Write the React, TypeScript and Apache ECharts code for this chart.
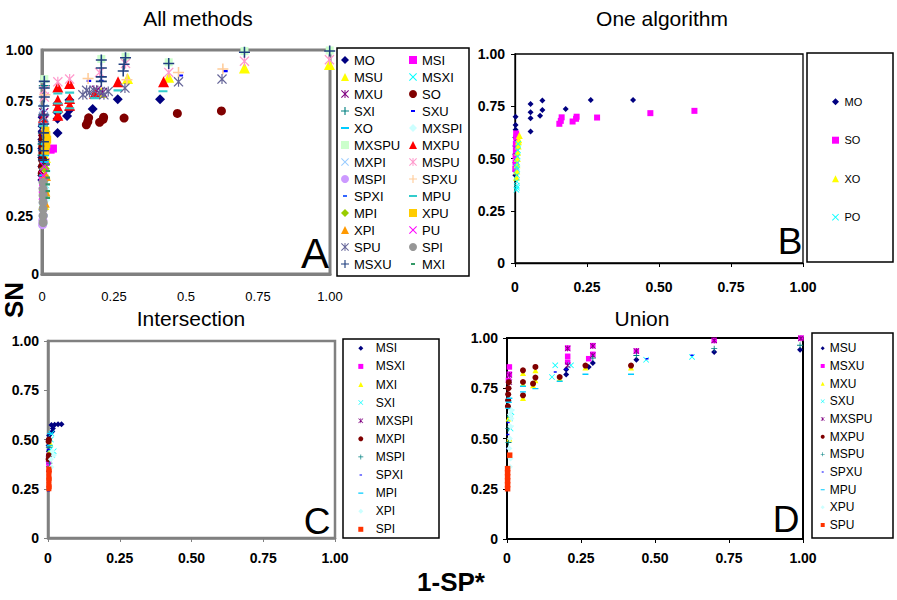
import React, { useEffect, useRef } from 'react';
import * as echarts from 'echarts';

type Pt = [number, number];

// ---------- tick labels ----------
const A_X_TICKS = ['0', '0.25', '0.5', '0.75', '1.00'];
const A_Y_TICKS = ['0', '0.25', '0.50', '0.75', '1.00'];
const STD_TICKS = ['0', '0.25', '0.50', '0.75', '1.00'];

// ---------- Panel B (and shared with A) ----------
const MO: Pt[] = [[0.002, 0.70], [0.002, 0.66], [0.002, 0.637], [0.001, 0.60], [0.001, 0.56], [0.001, 0.52], [0.001, 0.48], [0.001, 0.44], [0.001, 0.42], [0.054, 0.761], [0.054, 0.721], [0.054, 0.693], [0.054, 0.629], [0.087, 0.705], [0.095, 0.777], [0.095, 0.732], [0.176, 0.737], [0.263, 0.78], [0.41, 0.78]];
const SO: Pt[] = [[0.001, 0.45], [0.002, 0.48], [0.002, 0.51], [0.003, 0.54], [0.003, 0.57], [0.004, 0.60], [0.004, 0.62], [0.154, 0.666], [0.159, 0.68], [0.162, 0.697], [0.20, 0.677], [0.212, 0.69], [0.214, 0.70], [0.285, 0.696], [0.47, 0.717], [0.623, 0.728]];
const XO: Pt[] = [[0.005, 0.41], [0.006, 0.44], [0.007, 0.47], [0.008, 0.50], [0.009, 0.53], [0.011, 0.56], [0.013, 0.59], [0.015, 0.61], [0.012, 0.58]];
const PO: Pt[] = [[0.005, 0.35], [0.006, 0.37], [0.006, 0.39], [0.007, 0.42], [0.008, 0.45], [0.008, 0.48], [0.009, 0.51], [0.010, 0.54], [0.011, 0.57], [0.006, 0.46], [0.007, 0.36]];

// ---------- Panel A ----------
const A_MSI: Pt[] = [[0.038, 0.56], [0.03, 0.555], [0.012, 0.50], [0.006, 0.47], [0.003, 0.44], [0.004, 0.41]];
const A_MSU: Pt[] = [[0.998, 0.935], [0.703, 0.92], [0.44, 0.878], [0.297, 0.873], [0.206, 0.81], [0.012, 0.52], [0.01, 0.45], [0.008, 0.38], [0.006, 0.31]];
const A_MSXI: Pt[] = [[0.004, 0.24], [0.005, 0.28], [0.006, 0.32], [0.008, 0.36], [0.01, 0.40], [0.01, 0.44]];
const A_MXU: Pt[] = [[0.003, 0.60], [0.005, 0.65], [0.006, 0.72], [0.19, 0.82], [0.21, 0.81]];
const A_SXI: Pt[] = [[0.008, 0.84], [0.004, 0.58], [0.004, 0.53]];
const A_SXU: Pt[] = [[0.482, 0.886], [0.637, 0.906], [0.163, 0.862], [0.206, 0.862], [0.005, 0.62]];
const A_MXSPI: Pt[] = [[0.01, 0.38], [0.012, 0.42], [0.015, 0.46], [0.012, 0.33]];
const A_MXSPU: Pt[] = [[0.008, 0.87], [0.206, 0.96], [0.29, 0.97], [0.44, 0.945], [0.703, 0.995], [0.999, 0.998]];
const A_MXPU: Pt[] = [[0.055, 0.835], [0.055, 0.776], [0.055, 0.746], [0.055, 0.709], [0.096, 0.851], [0.096, 0.783], [0.096, 0.753], [0.183, 0.806], [0.264, 0.858], [0.422, 0.858], [0.005, 0.70]];
const A_MXPI: Pt[] = [[0.005, 0.74], [0.008, 0.70], [0.01, 0.66], [0.003, 0.30]];
const A_MSPU: Pt[] = [[0.055, 0.858], [0.096, 0.87], [0.2, 0.9], [0.29, 0.94], [0.44, 0.90], [0.703, 0.95], [0.998, 0.957], [0.008, 0.82], [0.008, 0.79]];
const A_MSPI: Pt[] = [[0.002, 0.22], [0.003, 0.24], [0.004, 0.26]];
const A_SPXU: Pt[] = [[0.16, 0.873], [0.295, 0.867], [0.474, 0.90], [0.628, 0.915], [0.01, 0.80]];
const A_SPXI: Pt[] = [[0.005, 0.30], [0.008, 0.35]];
const A_MPU: Pt[] = [[0.055, 0.806], [0.055, 0.761], [0.055, 0.723], [0.096, 0.81], [0.096, 0.77], [0.096, 0.74], [0.183, 0.785], [0.264, 0.82], [0.42, 0.816], [0.005, 0.66]];
const A_MPI: Pt[] = [[0.008, 0.42], [0.01, 0.47]];
const A_XPU: Pt[] = [[0.012, 0.64], [0.015, 0.62], [0.018, 0.60], [0.015, 0.58], [0.012, 0.55]];
const A_XPI: Pt[] = [[0.008, 0.32], [0.01, 0.37], [0.012, 0.44]];
const A_PU: Pt[] = [[0.003, 0.40], [0.005, 0.44], [0.008, 0.48], [0.003, 0.35]];
const A_SPU: Pt[] = [[0.142, 0.80], [0.155, 0.82], [0.165, 0.81], [0.18, 0.82], [0.2, 0.81], [0.215, 0.80], [0.23, 0.815], [0.288, 0.83], [0.474, 0.858], [0.625, 0.87], [0.005, 0.70]];
const A_SPI: Pt[] = [[0.004, 0.23], [0.004, 0.26], [0.004, 0.29], [0.004, 0.32], [0.004, 0.35], [0.004, 0.38], [0.004, 0.41]];
const A_MSXU: Pt[] = [[0.008, 0.86], [0.008, 0.83], [0.008, 0.79], [0.006, 0.75], [0.006, 0.71], [0.006, 0.67], [0.005, 0.63], [0.005, 0.59], [0.005, 0.55], [0.005, 0.51], [0.206, 0.955], [0.206, 0.92], [0.206, 0.88], [0.206, 0.86], [0.29, 0.965], [0.285, 0.936], [0.282, 0.906], [0.44, 0.94], [0.703, 0.99], [0.999, 0.996]];
const A_MXI: Pt[] = [[0.02, 0.49], [0.02, 0.46], [0.02, 0.43], [0.02, 0.40], [0.02, 0.37], [0.02, 0.34]];

// ---------- Panel C (Intersection) ----------
const C_MSI: Pt[] = [[0.002, 0.50], [0.004, 0.52], [0.012, 0.573], [0.017, 0.556], [0.023, 0.575], [0.035, 0.577], [0.047, 0.577], [0.015, 0.54], [0.002, 0.47], [0.003, 0.44]];
const C_MSXI: Pt[] = [[0.002, 0.38], [0.003, 0.42]];
const C_MXI: Pt[] = [[0.005, 0.44], [0.008, 0.48]];
const C_SXI: Pt[] = [[0.008, 0.45], [0.01, 0.50], [0.012, 0.53], [0.015, 0.42], [0.02, 0.44]];
const C_MXSPI: Pt[] = [[0.002, 0.40], [0.003, 0.35]];
const C_MXPI: Pt[] = [[0.002, 0.49], [0.003, 0.50], [0.003, 0.42], [0.002, 0.40]];
const C_MSPI: Pt[] = [[0.003, 0.46], [0.005, 0.38]];
const C_SPXI: Pt[] = [[0.001, 0.34], [0.002, 0.24], [0.001, 0.45]];
const C_MPI: Pt[] = [[0.006, 0.47], [0.008, 0.53]];
const C_XPI: Pt[] = [[0.01, 0.40], [0.015, 0.44], [0.02, 0.42], [0.012, 0.36]];
const C_SPI: Pt[] = [[0.003, 0.25], [0.003, 0.27], [0.003, 0.29], [0.003, 0.31], [0.003, 0.33], [0.003, 0.35], [0.004, 0.26], [0.004, 0.30], [0.004, 0.34]];

// ---------- Panel D (Union) ----------
const D_MSU: Pt[] = [[0.003, 0.66], [0.003, 0.69], [0.004, 0.72], [0.005, 0.75], [0.006, 0.78], [0.2, 0.818], [0.2, 0.843], [0.276, 0.856], [0.29, 0.876], [0.437, 0.892], [0.70, 0.93], [0.99, 0.942]];
const D_MSXU: Pt[] = [[0.008, 0.856], [0.008, 0.82], [0.005, 0.79], [0.205, 0.95], [0.205, 0.909], [0.205, 0.88], [0.276, 0.897], [0.29, 0.919], [0.29, 0.962], [0.437, 0.935], [0.70, 0.988], [0.993, 1.0]];
const D_MXU: Pt[] = [[0.054, 0.826], [0.054, 0.773], [0.054, 0.702], [0.088, 0.765], [0.096, 0.79], [0.096, 0.839], [0.178, 0.798], [0.265, 0.853], [0.419, 0.853], [0.005, 0.60], [0.008, 0.50]];
const D_SXU: Pt[] = [[0.152, 0.806], [0.163, 0.864], [0.216, 0.864], [0.47, 0.892], [0.625, 0.906], [0.01, 0.60], [0.015, 0.63], [0.012, 0.55]];
const D_MXSPU: Pt[] = [[0.008, 0.816], [0.008, 0.78], [0.205, 0.864], [0.205, 0.948], [0.29, 0.914], [0.29, 0.96], [0.437, 0.935], [0.70, 0.988], [0.993, 0.998]];
const D_MXPU: Pt[] = [[0.003, 0.66], [0.004, 0.69], [0.004, 0.72], [0.005, 0.75], [0.006, 0.78], [0.054, 0.839], [0.054, 0.781], [0.054, 0.715], [0.088, 0.773], [0.096, 0.803], [0.096, 0.856], [0.178, 0.806], [0.265, 0.863], [0.419, 0.863]];
const D_MSPU: Pt[] = [[0.437, 0.913], [0.70, 0.947], [0.99, 0.964], [0.29, 0.90], [0.005, 0.48], [0.004, 0.55]];
const D_SPXU: Pt[] = [[0.163, 0.831], [0.2, 0.845], [0.473, 0.897], [0.625, 0.914], [0.003, 0.45], [0.003, 0.52], [0.004, 0.58]];
const D_MPU: Pt[] = [[0.054, 0.732], [0.054, 0.76], [0.096, 0.748], [0.178, 0.785], [0.265, 0.82], [0.419, 0.82], [0.005, 0.65], [0.008, 0.70], [0.006, 0.68]];
const D_XPU: Pt[] = [[0.01, 0.62], [0.015, 0.60], [0.012, 0.56], [0.01, 0.50], [0.008, 0.45], [0.012, 0.40], [0.01, 0.36], [0.015, 0.64]];
const D_SPU: Pt[] = [[0.002, 0.25], [0.002, 0.27], [0.002, 0.29], [0.002, 0.31], [0.002, 0.33], [0.002, 0.35], [0.009, 0.417]];

// ---------- styling ----------
const FONT = '"Liberation Sans", Arial, Helvetica, sans-serif';
const SYM: Record<string, string> = {
  diamond: 'path://M5,0L10,5L5,10L0,5Z',
  square: 'path://M0,0H10V10H0Z',
  triangle: 'path://M5,0L10,10H0Z',
  circle: 'circle',
  x: 'path://M0.9,0L5,4.1L9.1,0L10,0.9L5.9,5L10,9.1L9.1,10L5,5.9L0.9,10L0,9.1L4.1,5L0,0.9Z',
  star: 'path://M0.9,0L5,4.1L9.1,0L10,0.9L5.9,5L10,9.1L9.1,10L5,5.9L0.9,10L0,9.1L4.1,5L0,0.9Z M4.4,0H5.6V10H4.4Z',
  plus: 'path://M4.3,0H5.7V4.3H10V5.7H5.7V10H4.3V5.7H0V4.3H4.3Z',
  dash: 'path://M0,0H0.01V0.01H0Z M2.5,3.8H7.5V6.2H2.5Z M10,10H9.99V9.99H10Z',
  longDash: 'path://M0,0H0.01V0.01H0Z M0,3.8H10V6.2H0Z M10,10H9.99V9.99H10Z',
};

type SDef = { label: string; data: Pt[]; sym: string; color: string };

const A_SERIES: SDef[] = [
  { label: 'MO', data: MO, sym: 'diamond', color: '#000080' },
  { label: 'MSI', data: A_MSI, sym: 'square', color: '#FF00FF' },
  { label: 'MSU', data: A_MSU, sym: 'triangle', color: '#FFFF00' },
  { label: 'MSXI', data: A_MSXI, sym: 'x', color: '#00FFFF' },
  { label: 'MXU', data: A_MXU, sym: 'star', color: '#800080' },
  { label: 'SO', data: SO, sym: 'circle', color: '#800000' },
  { label: 'SXI', data: A_SXI, sym: 'plus', color: '#008080' },
  { label: 'SXU', data: A_SXU, sym: 'dash', color: '#0000FF' },
  { label: 'XO', data: XO, sym: 'longDash', color: '#00CCFF' },
  { label: 'MXSPI', data: A_MXSPI, sym: 'diamond', color: '#CCFFFF' },
  { label: 'MXSPU', data: A_MXSPU, sym: 'square', color: '#CCFFCC' },
  { label: 'MXPU', data: A_MXPU, sym: 'triangle', color: '#FF0000' },
  { label: 'MXPI', data: A_MXPI, sym: 'x', color: '#99CCFF' },
  { label: 'MSPU', data: A_MSPU, sym: 'star', color: '#FF99CC' },
  { label: 'MSPI', data: A_MSPI, sym: 'circle', color: '#CC99FF' },
  { label: 'SPXU', data: A_SPXU, sym: 'plus', color: '#FFCC99' },
  { label: 'SPXI', data: A_SPXI, sym: 'dash', color: '#3366FF' },
  { label: 'MPU', data: A_MPU, sym: 'longDash', color: '#33CCCC' },
  { label: 'MPI', data: A_MPI, sym: 'diamond', color: '#99CC00' },
  { label: 'XPU', data: A_XPU, sym: 'square', color: '#FFCC00' },
  { label: 'XPI', data: A_XPI, sym: 'triangle', color: '#FF9900' },
  { label: 'PU', data: A_PU, sym: 'x', color: '#FF00FF' },
  { label: 'SPU', data: A_SPU, sym: 'star', color: '#666699' },
  { label: 'SPI', data: A_SPI, sym: 'circle', color: '#969696' },
  { label: 'MSXU', data: A_MSXU, sym: 'plus', color: '#1F3F7F' },
  { label: 'MXI', data: A_MXI, sym: 'dash', color: '#339966' },
];

const B_SERIES: SDef[] = [
  { label: 'MO', data: MO, sym: 'diamond', color: '#000080' },
  { label: 'SO', data: SO, sym: 'square', color: '#FF00FF' },
  { label: 'XO', data: XO, sym: 'triangle', color: '#FFFF00' },
  { label: 'PO', data: PO, sym: 'x', color: '#00FFFF' },
];

const C_SERIES: SDef[] = [
  { label: 'MSI', data: C_MSI, sym: 'diamond', color: '#000080' },
  { label: 'MSXI', data: C_MSXI, sym: 'square', color: '#FF00FF' },
  { label: 'MXI', data: C_MXI, sym: 'triangle', color: '#FFFF00' },
  { label: 'SXI', data: C_SXI, sym: 'x', color: '#00FFFF' },
  { label: 'MXSPI', data: C_MXSPI, sym: 'star', color: '#800080' },
  { label: 'MXPI', data: C_MXPI, sym: 'circle', color: '#800000' },
  { label: 'MSPI', data: C_MSPI, sym: 'plus', color: '#008080' },
  { label: 'SPXI', data: C_SPXI, sym: 'dash', color: '#0000FF' },
  { label: 'MPI', data: C_MPI, sym: 'longDash', color: '#00CCFF' },
  { label: 'XPI', data: C_XPI, sym: 'diamond', color: '#CCFFFF' },
  { label: 'SPI', data: C_SPI, sym: 'square', color: '#FF3300' },
];

const D_SERIES: SDef[] = [
  { label: 'MSU', data: D_MSU, sym: 'diamond', color: '#000080' },
  { label: 'MSXU', data: D_MSXU, sym: 'square', color: '#FF00FF' },
  { label: 'MXU', data: D_MXU, sym: 'triangle', color: '#FFFF00' },
  { label: 'SXU', data: D_SXU, sym: 'x', color: '#00FFFF' },
  { label: 'MXSPU', data: D_MXSPU, sym: 'star', color: '#800080' },
  { label: 'MXPU', data: D_MXPU, sym: 'circle', color: '#800000' },
  { label: 'MSPU', data: D_MSPU, sym: 'plus', color: '#008080' },
  { label: 'SPXU', data: D_SPXU, sym: 'dash', color: '#0000FF' },
  { label: 'MPU', data: D_MPU, sym: 'longDash', color: '#00CCFF' },
  { label: 'XPU', data: D_XPU, sym: 'diamond', color: '#CCFFFF' },
  { label: 'SPU', data: D_SPU, sym: 'square', color: '#FF3300' },
];

const A_SIZE: Record<string, number> = { diamond: 10, square: 8, triangle: 11, circle: 9, x: 9, star: 10, plus: 11, dash: 9, longDash: 9 };

type PanelCfg = {
  id: string; series: SDef[]; grid: any; frame: string; frameW: number;
  ticks: boolean; xTicks: string[]; labelWeight: string; xMargin: number; yMargin: number; showY: boolean;
  size: (s: string) => number;
};

const PANELS: PanelCfg[] = [
  { id: 'A', series: A_SERIES, grid: { left: 42, top: 50, width: 288, height: 224 }, frame: '#808080', frameW: 3, ticks: false, xTicks: A_X_TICKS, labelWeight: 'normal', xMargin: 16, yMargin: 9, showY: false, size: (s) => A_SIZE[s] },
  { id: 'B', series: B_SERIES, grid: { left: 515, top: 54, width: 288, height: 209 }, frame: '#000000', frameW: 1.3, ticks: true, xTicks: STD_TICKS, labelWeight: 'bold', xMargin: 17, yMargin: 10, showY: true, size: (s) => (s === 'triangle' ? 7 : 6) },
  { id: 'C', series: C_SERIES, grid: { left: 48, top: 341, width: 287, height: 197 }, frame: '#808080', frameW: 2.5, ticks: true, xTicks: STD_TICKS, labelWeight: 'bold', xMargin: 13, yMargin: 9, showY: true, size: (s) => (s === 'square' ? 5 : 6) },
  { id: 'D', series: D_SERIES, grid: { left: 507, top: 338, width: 296, height: 201 }, frame: '#000000', frameW: 2, ticks: true, xTicks: STD_TICKS, labelWeight: 'bold', xMargin: 12, yMargin: 9, showY: true, size: (s) => (s === 'square' ? 5.5 : 6) },
];

function buildOption() {
  const grid: any[] = [];
  const xAxis: any[] = [];
  const yAxis: any[] = [];
  const series: any[] = [];
  PANELS.forEach((p, i) => {
    grid.push({ ...p.grid, show: true, borderColor: p.frame, borderWidth: p.frameW, backgroundColor: 'transparent' });
    const axisLine = { show: true, lineStyle: { color: p.frame, width: p.frameW } };
    const axisTick = { show: p.ticks, length: 4, lineStyle: { color: p.frame, width: 1 } };
    xAxis.push({
      type: 'value', gridIndex: i, min: 0, max: 1, interval: 0.25, axisLine, axisTick, splitLine: { show: false },
      axisLabel: { margin: p.xMargin, color: '#000', fontFamily: FONT, fontSize: p.id === 'A' ? 13 : 14, fontWeight: p.labelWeight, formatter: (v: number) => p.xTicks[Math.round(v / 0.25)] },
    });
    yAxis.push({
      type: 'value', gridIndex: i, min: 0, max: 1, interval: 0.25, axisLine, axisTick, splitLine: { show: false },
      axisLabel: { show: p.showY, margin: p.yMargin, color: '#000', fontFamily: FONT, fontSize: 14, fontWeight: 'bold', formatter: (v: number) => STD_TICKS[Math.round(v / 0.25)] },
    });
    p.series.forEach((s) => {
      series.push({
        type: 'scatter', name: `${p.id}|${s.label}`, xAxisIndex: i, yAxisIndex: i, data: s.data,
        symbol: SYM[s.sym], symbolSize: p.size(s.sym), itemStyle: { color: s.color, opacity: 1 },
        emphasis: { disabled: true }, silent: true,
      });
    });
  });

  const fmt = (n: string) => n.split('|')[1];
  const legItems = (p: string, arr: SDef[]) => arr.map((s) => ({ name: `${p}|${s.label}`, icon: SYM[s.sym] }));
  const baseLegend = { orient: 'vertical', padding: 0, selectedMode: false, formatter: fmt, symbolKeepAspect: true };
  const legend: any[] = [
    { ...baseLegend, left: 341, top: 53, itemWidth: 8, itemHeight: 8, itemGap: 3, data: legItems('A', A_SERIES.filter((_, k) => k % 2 === 0)), textStyle: { fontFamily: FONT, fontSize: 13, lineHeight: 14, color: '#000' } },
    { ...baseLegend, left: 409, top: 53, itemWidth: 8, itemHeight: 8, itemGap: 3, data: legItems('A', A_SERIES.filter((_, k) => k % 2 === 1)), textStyle: { fontFamily: FONT, fontSize: 13, lineHeight: 14, color: '#000' } },
    { ...baseLegend, left: 832, top: 95.7, itemWidth: 8, itemHeight: 7, itemGap: 26.5, data: legItems('B', B_SERIES), textStyle: { fontFamily: FONT, fontSize: 11, lineHeight: 12, color: '#000' } },
    { ...baseLegend, left: 358.3, top: 341.8, itemWidth: 20, itemHeight: 5, itemGap: 5.1, data: legItems('C', C_SERIES), textStyle: { fontFamily: FONT, fontSize: 12, lineHeight: 13, color: '#000' } },
    { ...baseLegend, left: 820.7, top: 341.8, itemWidth: 4, itemHeight: 4, itemGap: 4.67, data: legItems('D', D_SERIES), textStyle: { fontFamily: FONT, fontSize: 12, lineHeight: 13, color: '#000' } },
  ];

  const txt = (text: string, x: number, y: number, size: number, weight = 'normal', align = 'center', extra: any = {}) => ({
    type: 'text', x, y, silent: true, ...extra,
    style: { text, fill: '#000', font: `${weight} ${size}px ${FONT}`, align, verticalAlign: 'middle', textAlign: align, textVerticalAlign: 'middle' },
  });
  const box = (x: number, y: number, w: number, h: number) => ({ type: 'rect', silent: true, shape: { x, y, width: w, height: h }, style: { fill: 'none', stroke: '#000', lineWidth: 1.5 } });
  const A_Y_POS = [274, 216, 149, 100.7, 50];

  const graphic: any[] = [
    box(337, 48, 132, 228),
    box(807, 53, 86, 209),
    box(343, 339, 96, 199),
    box(812, 333, 81, 205),
    txt('All methods', 198, 18, 21),
    txt('One algorithm', 662, 18, 21),
    txt('Intersection', 191, 318, 21),
    txt('Union', 642, 318, 21),
    txt('A', 315, 253, 42),
    txt('B', 790, 241, 37),
    txt('C', 317, 521, 37),
    txt('D', 786, 519, 37),
    txt('SN', 14, 300, 26, 'bold', 'center', { rotation: Math.PI / 2 }),
    txt('1-SP*', 451, 582, 26, 'bold'),
    ...A_Y_TICKS.map((t, k) => txt(t, k === 0 ? 39 : 33, A_Y_POS[k], 14, 'bold', 'right')),
  ];

  return {
    animation: false,
    backgroundColor: '#ffffff',
    textStyle: { fontFamily: FONT },
    grid, xAxis, yAxis, series, legend, graphic,
  };
}

export default function App() {
  const ref = useRef<HTMLDivElement>(null);
  useEffect(() => {
    if (!ref.current) return;
    const chart = echarts.init(ref.current, null, { renderer: 'svg' });
    chart.setOption(buildOption() as any);
    return () => chart.dispose();
  }, []);
  return <div ref={ref} style={{ position: 'fixed', left: 0, top: 0, width: 897, height: 600, background: '#fff' }} />;
}
